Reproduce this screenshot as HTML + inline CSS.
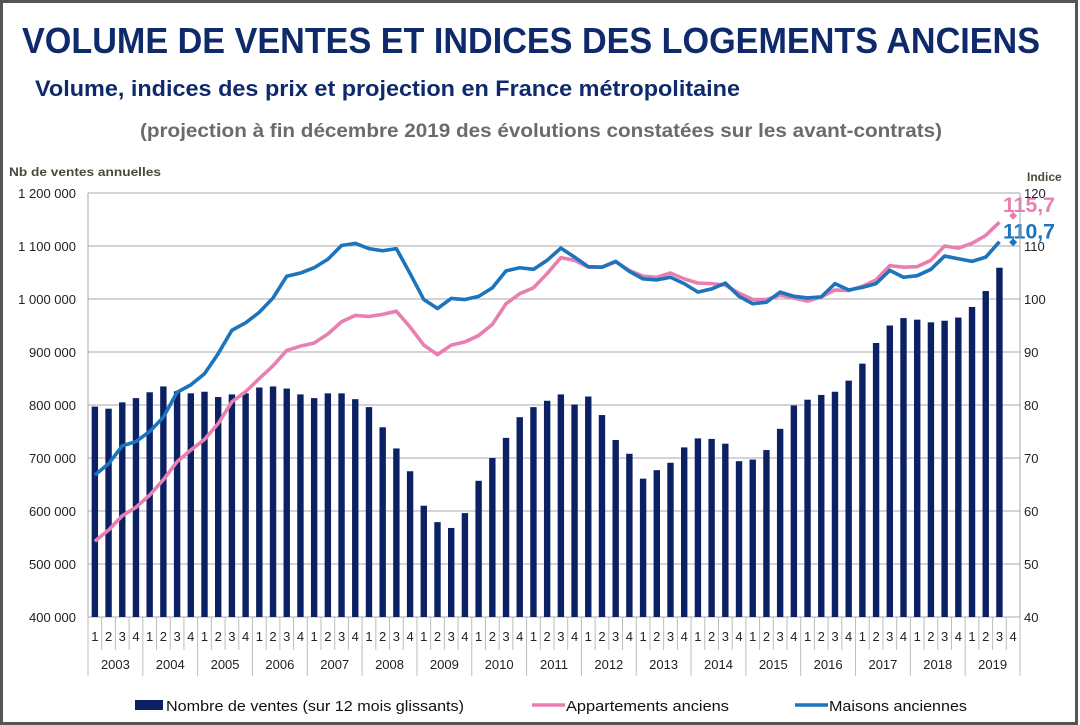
<!DOCTYPE html>
<html><head><meta charset="utf-8">
<style>
html,body{margin:0;padding:0;background:#fff;}
body{width:1080px;height:725px;overflow:hidden;}
svg{display:block;font-family:"Liberation Sans",sans-serif;}
</style></head>
<body>
<svg id="chart" width="1080" height="725" viewBox="0 0 1080 725">
<rect x="0" y="0" width="1080" height="725" fill="#fff"/>
<rect x="1.5" y="1.5" width="1075" height="722" fill="none" stroke="#555" stroke-width="3"/>
<text x="22" y="53" font-size="36" font-weight="bold" fill="#0f2a6b" textLength="1018" lengthAdjust="spacingAndGlyphs">VOLUME DE VENTES ET INDICES DES LOGEMENTS ANCIENS</text>
<text x="35" y="96" font-size="22" font-weight="bold" fill="#0f2a6b" textLength="705" lengthAdjust="spacingAndGlyphs">Volume, indices des prix et projection en France métropolitaine</text>
<text x="140" y="137" font-size="19" font-weight="bold" fill="#6b6b6b" textLength="802" lengthAdjust="spacingAndGlyphs">(projection à fin décembre 2019 des évolutions constatées sur les avant-contrats)</text>
<text x="9" y="176" font-size="12" font-weight="bold" fill="#4a4a3a" textLength="152" lengthAdjust="spacingAndGlyphs">Nb de ventes annuelles</text>
<text x="1027" y="181" font-size="12" font-weight="bold" fill="#4a4a3a">Indice</text>
<g id="grid"></g>
<g id="bars"></g>
<g id="lines"></g>
<g id="axes"></g>
<g id="legend"></g>
</svg>
<script>
const quarters = ['1','2','3','4'];
const years = ['2003','2004','2005','2006','2007','2008','2009','2010','2011','2012','2013','2014','2015','2016','2017','2018','2019'];
const leftTicks = [400000,500000,600000,700000,800000,900000,1000000,1100000,1200000];
const leftTickLabels = ['400 000','500 000','600 000','700 000','800 000','900 000','1 000 000','1 100 000','1 200 000'];
const rightTicks = [40,50,60,70,80,90,100,110,120];
const sales = [797,793,805,813, 824,835,826,822, 825,815,820,822, 833,835,831,820, 813,822,822,811, 796,758,718,675, 610,579,568,596, 657,700,738,777, 796,808,820,801, 816,781,734,708, 661,677,691,720, 737,736,727,694, 697,715,755,799, 810,819,825,846, 878,917,950,964, 961,956,959,965, 985,1015,1059];
const appart = [54.3,56.4,59.1,60.7, 63.0,65.9,69.3,71.5, 73.5,76.5,80.6,82.5, 85.0,87.4,90.3,91.1, 91.7,93.4,95.7,96.9, 96.7,97.1,97.7,94.7, 91.3,89.5,91.3,91.9, 93.1,95.2,99.1,101.0, 102.1,104.8,107.8,107.3, 106.0,106.0,107.0,105.4, 104.3,104.1,104.9,103.8, 103.0,102.9,102.6,101.1, 99.9,99.9,100.7,100.2, 99.6,100.4,101.7,101.6, 102.4,103.6,106.3,106.0, 106.1,107.3,110.0,109.6, 110.5,112.0,114.5];
const maisons = [66.8,68.9,72.3,73.1, 75.0,77.7,82.4,83.8, 85.9,89.7,94.1,95.5, 97.5,100.2,104.3,104.9, 105.9,107.5,110.1,110.5, 109.5,109.1,109.5,104.8, 99.9,98.2,100.1,99.9, 100.5,102.1,105.3,105.9, 105.6,107.3,109.6,107.9, 106.1,106.0,107.1,105.2, 103.8,103.6,104.1,102.9, 101.3,101.9,103.0,100.5, 99.1,99.4,101.3,100.5, 100.2,100.4,102.9,101.7, 102.2,102.9,105.4,104.1, 104.4,105.6,108.1,107.6, 107.1,107.9,110.8];
const projAppart = 115.7;
const projMaisons = 110.7;
const projLabels = ['115,7','110,7'];
const legendLabels = ['Nombre de ventes (sur 12 mois glissants)','Appartements anciens','Maisons anciennes'];

const NS='http://www.w3.org/2000/svg';
const X0=88, X1=1020, Y0=617, Y1=193;
const nSlots = years.length*4;
const slot=(X1-X0)/nSlots;
const xc=i=>X0+slot*(i+0.5);
const yL=v=>Y0-(v*1000-400000)/800000*(Y0-Y1);
const yR=v=>Y0-(v-40)/80*(Y0-Y1);
function mk(tag,attrs,parent,text){const e=document.createElementNS(NS,tag);for(const k in attrs)e.setAttribute(k,attrs[k]);if(text!==undefined)e.textContent=text;parent.appendChild(e);return e;}
const grid=document.getElementById('grid'),bars=document.getElementById('bars'),lines=document.getElementById('lines'),axes=document.getElementById('axes'),legend=document.getElementById('legend');

leftTicks.forEach((t,i)=>{
  const y=Y0-(t-400000)/800000*(Y0-Y1);
  const g=mk('line',{x1:X0,x2:X1,y1:y,y2:y,stroke:'#a8a8a8','stroke-width':1},grid);
  
  
  const l=mk('text',{x:76,y:y+5,'font-size':13,'text-anchor':'end',fill:'#222'},axes,leftTickLabels[i]);
  
  
});
rightTicks.forEach(t=>{
  const l=mk('text',{x:1024,y:yR(t)+5,'font-size':13,fill:'#222'},axes,String(t));
  
  
});
let a=mk('line',{x1:X0,x2:X0,y1:Y1,y2:Y0,stroke:'#a8a8a8'},axes);


a=mk('line',{x1:X1,x2:X1,y1:Y1,y2:Y0,stroke:'#a8a8a8'},axes);



sales.forEach((v,i)=>{
  const y=yL(v);
  const b=mk('rect',{x:xc(i)-3.2,y:y,width:6.4,height:Y0-y,fill:'#0c2164'},bars);
  
  
});

function poly(arr,color,name){
  const p=mk('polyline',{points:arr.map((v,i)=>xc(i)+','+yR(v)).join(' '),fill:'none',stroke:color,'stroke-width':3.6,'stroke-linejoin':'round'},lines);
  
  
}
poly(appart,'#e97fb0','appartements-line');
poly(maisons,'#1c74bc','maisons-line');
const pi=sales.length;
let d=mk('path',{d:`M${xc(pi)} ${yR(projAppart)-4}l4 4l-4 4l-4 -4z`,fill:'#e97fb0'},lines);


d=mk('path',{d:`M${xc(pi)} ${yR(projMaisons)-4}l4 4l-4 4l-4 -4z`,fill:'#1c74bc'},lines);


let t=mk('text',{x:1003,y:yR(projAppart)-4,'font-size':21,'font-weight':'bold',fill:'#e97fb0',textLength:52,lengthAdjust:'spacingAndGlyphs'},lines,projLabels[0]);


t=mk('text',{x:1003,y:yR(projMaisons)-4,'font-size':21,'font-weight':'bold',fill:'#1c74bc',textLength:52,lengthAdjust:'spacingAndGlyphs'},lines,projLabels[1]);



for(let i=0;i<=nSlots;i++){
  const x=X0+slot*i;
  const tk=mk('line',{x1:x,x2:x,y1:Y0,y2:(i%4===0)?676:650,stroke:'#bdbdbd'},axes);
  
  
}
years.forEach((yr,yi)=>{
  quarters.forEach((q,qi)=>{
    const i=yi*4+qi;
    const l=mk('text',{x:xc(i),y:641,'font-size':13,'text-anchor':'middle',fill:'#222'},axes,q);
    
    
  });
  const l=mk('text',{x:X0+slot*(yi*4+2),y:669,'font-size':13,'text-anchor':'middle',fill:'#222'},axes,yr);
  
  
});

let r=mk('rect',{x:135,y:700,width:28,height:10,fill:'#0c2164'},legend);


t=mk('text',{x:166,y:711,'font-size':15,fill:'#111',textLength:298,lengthAdjust:'spacingAndGlyphs'},legend,legendLabels[0]);


r=mk('line',{x1:532,x2:565,y1:705,y2:705,stroke:'#e97fb0','stroke-width':3.5},legend);


t=mk('text',{x:566,y:711,'font-size':15,fill:'#111',textLength:163,lengthAdjust:'spacingAndGlyphs'},legend,legendLabels[1]);


r=mk('line',{x1:795,x2:828,y1:705,y2:705,stroke:'#1c74bc','stroke-width':3.5},legend);


t=mk('text',{x:829,y:711,'font-size':15,fill:'#111',textLength:138,lengthAdjust:'spacingAndGlyphs'},legend,legendLabels[2]);


</script>
</body></html>
